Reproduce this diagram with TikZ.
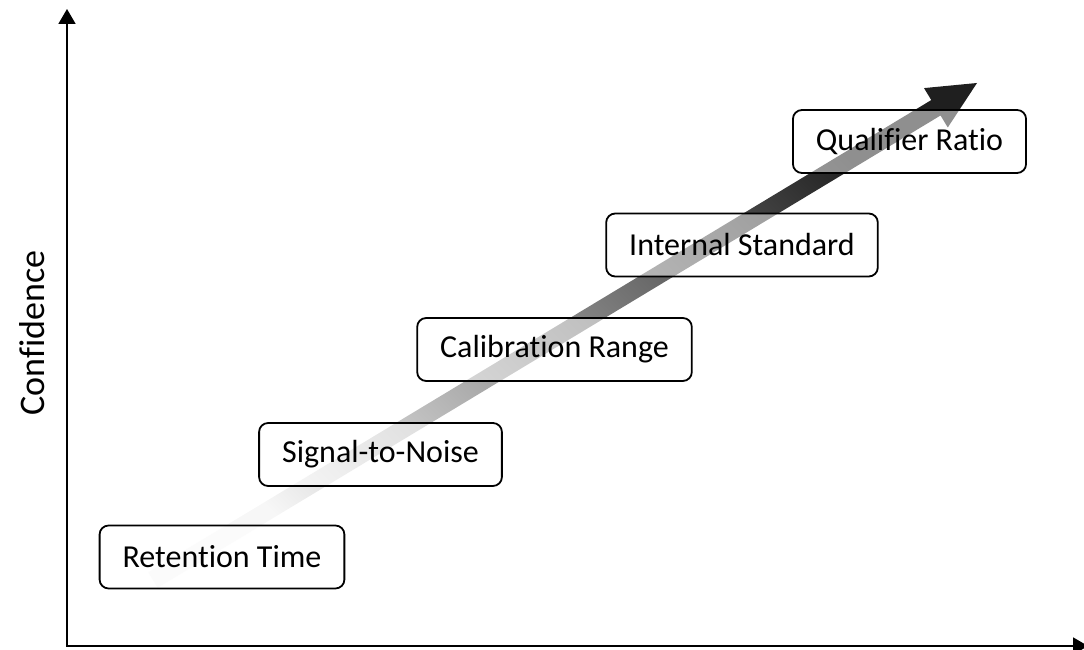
\documentclass[tikz,border=0pt]{standalone}
\usepackage{fontspec}
\setmainfont{Carlito}[Ligatures={NoCommon,NoContextual}]
\usetikzlibrary{arrows.meta,calc}

\begin{document}
\begin{tikzpicture}[x=1pt,y=1pt,
  stage/.style={draw,line width=1.8pt,rounded corners=9pt,fill=white,fill opacity=0.5,text opacity=1,
    minimum height=63pt,inner xsep=23pt,font=\fontsize{32}{38}\selectfont},
  axis/.style={line width=1.8pt,{Triangle[length=15pt,width=17pt]}-{Triangle[length=15pt,width=17pt]}}]
  \useasboundingbox (0,0) rectangle (1084,650);
  \coordinate (o) at (67,4);
  \coordinate (ytop) at (67,641);
  \coordinate (xend) at (1088,4);
  \coordinate (tail) at (153,70);
  \coordinate (tip) at (977,567);
  \coordinate (hb) at ($(tip)!48pt!(tail)$);
  \shade[top color=black!88,bottom color=black!3,shading angle=-45]
    ($(tail)!9pt!-90:(tip)$) -- ($(hb)!9pt!-90:(tip)$) -- ($(hb)!23pt!-90:(tip)$)
    -- (tip) -- ($(hb)!23pt!90:(tip)$) -- ($(hb)!9pt!90:(tip)$)
    -- ($(tail)!9pt!90:(tip)$) -- cycle;
  \draw[axis] (ytop) -- (o) -- (xend);
  \node[rotate=90,font=\fontsize{36}{42}\selectfont] (conf) at (32,317) {Confidence};
  \node[stage] (ret) at (222,93) {Retention Time};
  \node[stage] (sig) at (380.5,195.5) {Signal-to-Noise};
  \node[stage] (cal) at (554.5,300.5) {Calibration Range};
  \node[stage] (int) at (742,405) {Internal Standard};
  \node[stage] (qual) at (909.5,508.5) {Qualifier Ratio};
\end{tikzpicture}
\end{document}
